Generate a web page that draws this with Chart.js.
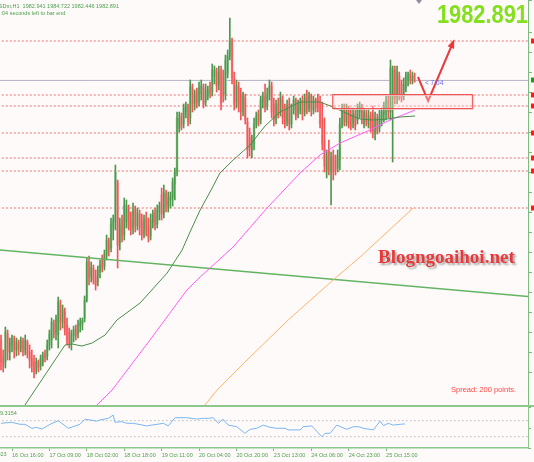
<!DOCTYPE html>
<html>
<head>
<meta charset="utf-8">
<script src="https://cdn.jsdelivr.net/npm/chart.js@4.4.0/dist/chart.umd.min.js"></script>
<style>
  html, body { margin: 0; padding: 0; background: #fefafa; }
  #wrap { position: relative; width: 534px; height: 462px; overflow: hidden; background: #fefafa; }
  #main { position: absolute; left: 0; top: 0; }
  #ind { position: absolute; left: 0; top: 405px; }
</style>
</head>
<body>
<div id="wrap">
  <canvas id="main" width="534" height="405"></canvas>
  <canvas id="ind" width="534" height="57"></canvas>
</div>
<script>
// XAUUSDm H1 candles, one per hour
const barOpen = [
  1918, 1914.25, 1912.5, 1919.5, 1915, 1916.75, 1918, 1915.5, 1917.25, 1916,
  1917.75, 1915.5, 1917.5, 1915, 1913.5, 1912.5, 1910.5, 1912.5, 1911.5, 1912.5,
  1914.5, 1914, 1916.75, 1918, 1922, 1919.75, 1919.25, 1926.75, 1922.5, 1925,
  1921.75, 1920, 1917, 1919, 1920.75, 1919.5, 1921.5, 1922, 1923.5, 1928,
  1937.5, 1934, 1936, 1934, 1932.5, 1935, 1938.5, 1936.5, 1939.25, 1942.5,
  1941, 1946, 1947.5, 1957.5, 1942, 1948, 1944.25, 1947.5, 1951, 1948,
  1946, 1950.5, 1946.5, 1949.5, 1947.5, 1944.5, 1948.5, 1946.5, 1944, 1947.5,
  1950, 1947, 1950, 1954.25, 1949.5, 1954.5, 1951.5, 1953, 1953.5, 1957,
  1960, 1971, 1974, 1972, 1975, 1976.5, 1973.5, 1981, 1977, 1980,
  1977.5, 1979.5, 1981, 1977.5, 1979, 1981.5, 1980, 1984, 1985, 1982,
  1985.5, 1984.5, 1979.5, 1984.5, 1989, 1993, 1983.5, 1977.5, 1981.5, 1979.5,
  1975, 1978.5, 1972.5, 1968.5, 1965.5, 1967, 1972, 1974.5, 1973, 1977.5,
  1979, 1976.5, 1979.5, 1981.5, 1977, 1973, 1977, 1975, 1978, 1975.5,
  1972.5, 1977, 1972, 1975.5, 1978, 1974.5, 1975.5, 1978, 1975, 1979.5,
  1976, 1979, 1975.5, 1978, 1978.5, 1977.5, 1973, 1968, 1960, 1965.5,
  1960, 1964, 1963, 1961, 1963, 1972, 1976, 1972.5, 1975.5, 1974,
  1972, 1974.5, 1973, 1975, 1976.5, 1972, 1974.5, 1972, 1974, 1974.5,
  1969.5, 1973.5, 1971, 1973, 1974.5, 1976, 1978, 1975, 1979, 1985.5,
  1978.5, 1984, 1982, 1979, 1981, 1983, 1984.5, 1983, 1982.94
];
const barHigh = [
  1919.25, 1915.5, 1921.25, 1920.5, 1918.5, 1919.25, 1919, 1918.5, 1918, 1918.75,
  1918.5, 1919.25, 1918, 1916.75, 1915.5, 1914.25, 1913.5, 1913, 1914.25, 1915,
  1915.5, 1918, 1920.5, 1923.5, 1923, 1924.25, 1928.75, 1928, 1926.75, 1926,
  1923.5, 1921, 1920.5, 1921.5, 1921.75, 1923, 1923.5, 1923.5, 1929, 1938.5,
  1939, 1937.5, 1936.75, 1935.5, 1936.5, 1938, 1939.25, 1940.5, 1944.25, 1943.5,
  1948.5, 1949.25, 1961.75, 1958, 1948.5, 1949.25, 1953.5, 1953, 1951.75, 1950,
  1952.25, 1951.5, 1951, 1950.5, 1949.5, 1949.25, 1950, 1948.5, 1949.5, 1950.5,
  1951, 1951.75, 1952.5, 1956, 1956.75, 1955.5, 1955, 1955, 1958.5, 1961,
  1975, 1975, 1974.75, 1977, 1977.5, 1977, 1983, 1982, 1980.5, 1981,
  1982.5, 1983, 1982, 1982, 1981.5, 1982.5, 1987, 1986.5, 1986, 1986.5,
  1986.5, 1985.5, 1989.25, 1990.5, 1998.5, 1993.5, 1985, 1983, 1982.5, 1981,
  1980, 1979.5, 1973.5, 1971, 1969.25, 1973.5, 1975, 1975.5, 1979, 1980,
  1982, 1981, 1983, 1982.5, 1978.5, 1978, 1978.5, 1980, 1979, 1977,
  1978, 1978.5, 1977, 1979, 1978.5, 1978, 1978.5, 1979, 1979.5, 1980.5,
  1980, 1979.5, 1979, 1978.5, 1979.5, 1979, 1977.5, 1973.5, 1965.5, 1968,
  1965, 1965.5, 1964.25, 1965.5, 1973.5, 1977, 1977, 1977, 1976.5, 1976,
  1976, 1975.5, 1977, 1977.5, 1977, 1976, 1975.5, 1975.5, 1975, 1976.5,
  1975, 1974.5, 1975.5, 1976, 1977.5, 1979, 1979, 1988, 1986.5, 1986.5,
  1986.5, 1985, 1983, 1983.5, 1985, 1985, 1985.5, 1985, 1984.72
];
const barLow = [
  1910.5, 1910, 1911, 1913, 1913, 1915, 1913.5, 1914, 1914.25, 1915,
  1914, 1914.25, 1913.5, 1911, 1910, 1908.5, 1909.5, 1910, 1910.5, 1911.5,
  1912.5, 1913, 1915.5, 1916, 1918.5, 1918, 1916, 1920.5, 1921, 1919.25,
  1916.75, 1916, 1915.5, 1917.5, 1918, 1918.5, 1920, 1920.5, 1922.5, 1927.5,
  1931.75, 1932.5, 1932, 1930.5, 1931.5, 1933.5, 1935, 1935.5, 1938, 1939,
  1940, 1943, 1945.5, 1936, 1940.5, 1942.5, 1943, 1946, 1945.5, 1944.25,
  1944.5, 1945, 1945.5, 1944.25, 1943, 1943.5, 1944, 1942.5, 1943, 1946,
  1945.5, 1946, 1948, 1948, 1948.5, 1950, 1950, 1951, 1951.5, 1953,
  1959, 1970, 1970.5, 1971, 1973.5, 1971.5, 1972, 1975, 1975.5, 1976,
  1976.5, 1978, 1976, 1976.5, 1978, 1978.5, 1979, 1982, 1980, 1980.5,
  1975.5, 1977.5, 1978, 1983.5, 1988, 1982, 1975.5, 1976, 1975, 1973,
  1974, 1972, 1963.5, 1964, 1963.5, 1965.5, 1971, 1971.5, 1972, 1976,
  1975, 1975.5, 1978, 1973.5, 1971.5, 1972, 1973.5, 1974, 1972, 1971,
  1971.5, 1970.5, 1971, 1974.5, 1973, 1973.5, 1974.5, 1973, 1974, 1974.5,
  1975, 1974, 1974.5, 1975, 1975, 1971, 1965.5, 1960, 1958.5, 1959.25,
  1951.75, 1958, 1959.25, 1960, 1960.5, 1971, 1971.5, 1971.5, 1971, 1970.5,
  1971, 1970.5, 1972, 1973.5, 1972, 1971, 1971.5, 1971, 1970, 1968.5,
  1968, 1969.5, 1970, 1971.5, 1972.5, 1973, 1973.5, 1973, 1962.5, 1977,
  1977, 1978, 1977.5, 1978, 1980, 1981.5, 1982, 1982, 1982.45
];
const barClose = [
  1912.5, 1911.5, 1920, 1915, 1917.5, 1918.5, 1915.5, 1917.5, 1915.5, 1918,
  1915, 1918, 1914.5, 1913, 1911.5, 1910, 1912.5, 1911, 1913.5, 1914.25,
  1913.5, 1916.75, 1919.5, 1922.5, 1919.5, 1923, 1927.5, 1922.5, 1925.5, 1920.5,
  1918, 1917, 1919.5, 1920.5, 1919.25, 1922, 1922.5, 1923, 1928, 1937.5,
  1933.5, 1936, 1933, 1931.75, 1935.5, 1937, 1936, 1939.5, 1943, 1940.5,
  1947, 1948, 1960, 1941.75, 1946.75, 1944, 1951.75, 1951.5, 1946.5, 1945.5,
  1950.5, 1946.5, 1949.75, 1946, 1944.25, 1948, 1945.5, 1943.5, 1948, 1949.5,
  1946.75, 1950.5, 1951.5, 1949.5, 1955, 1951.5, 1953.5, 1954, 1957.5, 1960,
  1973.5, 1973.5, 1971.5, 1976, 1976.75, 1972.5, 1981.5, 1977, 1979, 1977.25,
  1981, 1981.5, 1977, 1980.5, 1980.5, 1979.5, 1985.5, 1985.5, 1981.5, 1985,
  1977, 1979, 1988, 1989, 1993, 1983.5, 1977, 1981.5, 1976.5, 1975,
  1979, 1973, 1965.5, 1966, 1968, 1972, 1974, 1972.5, 1978, 1979,
  1976, 1979.5, 1981.5, 1975, 1973, 1976.5, 1974.5, 1978.5, 1973.5, 1972,
  1976.5, 1972, 1975.5, 1978, 1974, 1977, 1977.5, 1974.5, 1978.5, 1975.5,
  1979, 1975.5, 1978, 1976, 1976, 1972, 1967, 1961.5, 1964, 1960.5,
  1963.5, 1960, 1960.5, 1964, 1972, 1975.5, 1973, 1975.5, 1972, 1971.5,
  1974.5, 1971.5, 1976, 1976.5, 1973, 1975, 1972.5, 1974, 1971, 1970,
  1973.5, 1970.5, 1974, 1975, 1976.5, 1978, 1975, 1986, 1985.5, 1978.5,
  1985, 1979.5, 1978.5, 1982, 1984, 1984.5, 1983, 1984, 1982.89
];

// moving averages, sampled where they could be read (bar index, price)
const maFastX = [10.9, 29.1, 32.3, 36.8, 41.4, 47.3, 52.7, 63.2, 75.5, 82.3, 85.9, 90.5, 95, 99.5, 105.5, 113.2, 120, 126.8, 135.9, 145, 150.9, 158.6, 163.2, 169.1, 175.5, 181.4, 188.2];
const maFastY = [1901.75, 1916.75, 1917, 1916.5, 1917.25, 1919.25, 1923, 1927.25, 1934.75, 1940.5, 1945, 1950.5, 1955, 1959.75, 1963, 1966.75, 1971.5, 1975, 1977.5, 1977.5, 1976.25, 1974.25, 1973.25, 1973, 1973.25, 1973.75, 1974];
const maMidX = [43.6, 50.5, 67.7, 84.5, 90.5, 105.5, 120.9, 135.9, 145, 154.1, 167.7, 176.8, 188.2];
const maMidY = [1901.75, 1905.5, 1918, 1930.5, 1933.75, 1941.25, 1951, 1959.75, 1964.25, 1967.25, 1970.5, 1973, 1975.5];
const maSlowX = [92.7, 98.2, 113.2, 130.5, 150.9, 163.2, 181.4, 187.3];
const maSlowY = [1901.75, 1905.5, 1913.75, 1923, 1933, 1938.75, 1948, 1951];

const trendX = [-0.5, 242.5];
const trendY = [1940.5, 1928.7];

const levels = [1992.75, 1979.25, 1976.5, 1969.75, 1963.5, 1960.25, 1951];
const bidPrice = 1982.891;

const zoneX = [150.5, 214];
const zoneY = [1979.5, 1976];

const arrowX = [189.5, 194.1, 205.5];
const arrowY = [1983.75, 1977.75, 1992.5];

// lower window indicator
const indX = [0, 4.9, 8.6, 10.9, 14, 16.2, 18.5, 22.3, 26, 27.6, 30.6, 35.9, 38.2, 43.5, 45, 48.8, 51, 51.8, 54.9, 57.1, 60.1, 66.2, 73.8, 76, 79.1, 84.4, 89, 92, 94.2, 96.5, 98.8, 100.8, 103.3, 107.1, 110.9, 113.2, 116.2, 119.2, 122.3, 125.3, 129.1, 130.6, 135.9, 137.4, 141.2, 145.8, 147.3, 149.5, 152.6, 157.1, 160.1, 162.4, 164.7, 169.2, 172.3, 173.8, 176, 178.3, 181.4, 183.6];
const indY = [9.35, 9.6, 9.1, 9.1, 8.1, 8.35, 7.9, 9.1, 10, 9.35, 8.1, 9.1, 10.4, 9.9, 10.2, 10.6, 11.4, 9.6, 9.75, 9.35, 9.35, 8.7, 9.35, 8.7, 10.75, 10.75, 10.4, 10.6, 10.6, 10.75, 9.35, 10.4, 8.9, 8.5, 6.85, 7.85, 8.1, 8.9, 8.35, 8.1, 8.1, 7.7, 7.7, 8.5, 8.7, 6, 6.85, 6.85, 8.9, 7.85, 8.5, 8.5, 8.1, 7.7, 9.9, 8.75, 9.35, 8.9, 9.1, 9.2];
const indLevels = [10, 6];

const timeTicks = [5, 22, 39, 56, 73, 90, 107, 124, 141, 158, 175];
const timeLabels = ["16 Oct 16:00", "17 Oct 09:00", "18 Oct 02:00", "18 Oct 18:00", "19 Oct 11:00", "20 Oct 04:00", "20 Oct 20:00", "23 Oct 13:00", "24 Oct 06:00", "24 Oct 23:00", "25 Oct 15:00"];

const X_MIN = -0.4545;
const X_MAX = 239.5;

Chart.defaults.font.family = "'Liberation Sans', Arial, sans-serif";
Chart.defaults.animation = false;

const isBull = (i) => barClose[i] >= barOpen[i];

function pts(xs, ys) {
  return xs.map((x, i) => ({ x, y: ys[i] }));
}

function lineSet(data, color, width, dash) {
  return {
    type: "line",
    data,
    borderColor: color,
    borderWidth: width,
    borderDash: dash || [],
    pointRadius: 0,
    tension: 0,
    fill: false,
  };
}

const wicks = {
  type: "bar",
  data: barLow.map((l, i) => ({ x: i, y: [l, barHigh[i]] })),
  backgroundColor: (c) => (isBull(c.dataIndex) ? "#4c984c" : "#f25656"),
  barThickness: 1,
  maxBarThickness: 1,
  grouped: false,
  borderWidth: 0,
};

const bodies = {
  type: "bar",
  data: barOpen.map((o, i) => ({ x: i, y: [o, barClose[i]] })),
  backgroundColor: (c) => (isBull(c.dataIndex) ? "#b2d8b2" : "#fab8b8"),
  barThickness: 2,
  maxBarThickness: 2,
  grouped: false,
  borderWidth: 0,
};

const levelSets = levels.map((lv) =>
  lineSet(pts([X_MIN - 1, X_MAX + 1], [lv, lv]), "#f26a6a", 1, [2, 2]),
);

const overlay = {
  id: "overlay",
  afterDatasetsDraw(chart) {
    const { ctx, scales } = chart;
    const x = scales.x;
    const y = scales.y;
    ctx.save();

    // support zone
    const zx0 = x.getPixelForValue(zoneX[0]);
    const zx1 = x.getPixelForValue(zoneX[1]);
    const zy0 = y.getPixelForValue(zoneY[0]);
    const zy1 = y.getPixelForValue(zoneY[1]);
    ctx.fillStyle = "rgba(255,225,225,0.35)";
    ctx.fillRect(zx0, zy0, zx1 - zx0, zy1 - zy0);
    ctx.strokeStyle = "rgba(240,190,190,0.8)";
    ctx.lineWidth = 1;
    ctx.strokeRect(zx0 + 1.5, zy0 + 1.5, zx1 - zx0, zy1 - zy0);
    ctx.strokeStyle = "rgba(236,70,70,0.9)";
    ctx.strokeRect(zx0 + 0.5, zy0 + 0.5, zx1 - zx0, zy1 - zy0);

    // arrow head
    const ax = x.getPixelForValue(arrowX[2]);
    const ay = y.getPixelForValue(arrowY[2]);
    const bx = x.getPixelForValue(arrowX[1]);
    const by = y.getPixelForValue(arrowY[1]);
    const ang = Math.atan2(ay - by, ax - bx);
    ctx.fillStyle = "#ea3a3a";
    ctx.beginPath();
    ctx.moveTo(ax + Math.cos(ang) * 3, ay + Math.sin(ang) * 3);
    ctx.lineTo(ax - Math.cos(ang) * 6 + Math.cos(ang + Math.PI / 2) * 3.5, ay - Math.sin(ang) * 6 + Math.sin(ang + Math.PI / 2) * 3.5);
    ctx.lineTo(ax - Math.cos(ang) * 6 - Math.cos(ang + Math.PI / 2) * 3.5, ay - Math.sin(ang) * 6 - Math.sin(ang + Math.PI / 2) * 3.5);
    ctx.closePath();
    ctx.fill();

    // price tags on the right edge (cut off by the window)
    levels.forEach((lv) => {
      ctx.fillStyle = "#ff1a1a";
      ctx.fillRect(531, Math.round(y.getPixelForValue(lv)) - 2.5, 3, 5);
    });
    ctx.fillStyle = "#1e9a1e";
    ctx.fillRect(531, Math.round(y.getPixelForValue(bidPrice)) - 2.5, 3, 5);

    // chart shift marker
    ctx.fillStyle = "#8e8e9e";
    ctx.beginPath();
    ctx.moveTo(416, 0);
    ctx.lineTo(422, 0);
    ctx.lineTo(419, 4);
    ctx.closePath();
    ctx.fill();

    // texts
    ctx.textBaseline = "alphabetic";
    ctx.fillStyle = "#4e9e4e";
    ctx.font = "5.5px 'Liberation Sans'";
    ctx.fillText("XAUUSDm,H1  1982.941 1984.722 1982.446 1982.891", -16.5, 7.5);
    ctx.fillText(":04 seconds left to bar end", 0.5, 15);

    ctx.fillStyle = "#6868ee";
    ctx.font = "6.5px 'Liberation Sans'";
    ctx.fillText("< 7:04", x.getPixelForValue(192.7), y.getPixelForValue(1982.25) + 2);

    ctx.fillStyle = "#ff4848";
    ctx.font = "7.5px 'Liberation Sans'";
    ctx.fillText("Spread: 200 points.", 451, 392);

    ctx.save();
    ctx.shadowColor = "rgba(60,60,60,0.45)";
    ctx.shadowBlur = 2;
    ctx.shadowOffsetX = 2;
    ctx.shadowOffsetY = 2;
    ctx.fillStyle = "#e83a3a";
    ctx.font = "bold 19px 'Liberation Serif'";
    ctx.fillText("Blogngoaihoi.net", 378, 262.5);
    ctx.restore();

    ctx.save();
    ctx.translate(528, 22.5);
    ctx.scale(0.84, 1);
    ctx.textAlign = "right";
    ctx.fillStyle = "#84e01e";
    ctx.font = "bold 26px 'Liberation Sans'";
    ctx.fillText("1982.891", 0, 0);
    ctx.restore();

    ctx.restore();
  },
};

new Chart(document.getElementById("main"), {
  type: "bar",
  data: {
    datasets: [
      lineSet(pts(arrowX, arrowY), "#ea3a3a", 2),
      lineSet(pts(maFastX, maFastY), "#4a8e4a", 1),
      lineSet(pts(maMidX, maMidY), "#ff5cff", 1),
      lineSet(pts(maSlowX, maSlowY), "#ffb46a", 1),
      lineSet(pts(trendX, trendY), "#62b462", 1.5),
      wicks,
      bodies,
      ...levelSets,
      lineSet(pts([X_MIN - 1, X_MAX + 1], [bidPrice, bidPrice]), "#b4b4c6", 1),
    ],
  },
  options: {
    responsive: false,
    maintainAspectRatio: false,
    layout: { padding: 0 },
    plugins: { legend: { display: false }, tooltip: { enabled: false } },
    scales: {
      x: {
        type: "linear",
        min: X_MIN,
        max: X_MAX,
        offset: false,
        display: false,
      },
      y: {
        type: "linear",
        position: "right",
        min: 1901.75,
        max: 2003,
        afterFit: (s) => { s.width = 6; },
        ticks: { display: false, stepSize: 5 },
        grid: { drawOnChartArea: false, drawTicks: true, tickLength: 4, color: "#7cbc7c" },
        border: { display: true, color: "#7cbc7c", width: 1 },
      },
    },
  },
  plugins: [overlay],
});

const indOverlay = {
  id: "indOverlay",
  beforeDraw(chart) {
    const { ctx } = chart;
    ctx.save();
    ctx.fillStyle = "#8cc88c";
    ctx.fillRect(0, 0, 534, 2);
    ctx.restore();
  },
  afterDraw(chart) {
    const { ctx, scales } = chart;
    ctx.save();
    ctx.fillStyle = "#4e9e4e";
    ctx.font = "5.5px 'Liberation Sans'";
    ctx.fillText("9.3154", 0, 9.5);
    ctx.fillText("16 Oct 2023", scales.x.getPixelForValue(-12) + 2, 51);
    ctx.restore();
  },
};

new Chart(document.getElementById("ind"), {
  type: "line",
  data: {
    datasets: [
      lineSet(pts(indX, indY), "#7ab6f2", 1),
      ...indLevels.map((lv) => lineSet(pts([X_MIN - 1, X_MAX + 1], [lv, lv]), "#c8c8c8", 1, [2, 2])),
    ],
  },
  options: {
    responsive: false,
    maintainAspectRatio: false,
    layout: { padding: { top: 2, left: 0, right: 0, bottom: 0 } },
    plugins: { legend: { display: false }, tooltip: { enabled: false } },
    scales: {
      x: {
        type: "linear",
        min: X_MIN,
        max: X_MAX,
        offset: false,
        afterFit: (s) => { s.height = 14; },
        afterBuildTicks: (s) => { s.ticks = timeTicks.map((v) => ({ value: v })); },
        ticks: {
          autoSkip: false,
          maxRotation: 0,
          align: "start",
          padding: 1,
          color: "#4e9e4e",
          font: { size: 5.5 },
          callback: (v, i) => timeLabels[i],
        },
        grid: { drawOnChartArea: false, drawTicks: true, tickLength: 3, color: "#7cbc7c" },
        border: { display: true, color: "#8cc88c", width: 1.5 },
      },
      y: {
        type: "linear",
        position: "right",
        min: 3.175,
        max: 13.425,
        afterFit: (s) => { s.width = 6; },
        ticks: { display: false, stepSize: 4 },
        grid: { drawOnChartArea: false, drawTicks: true, tickLength: 3, color: "#7cbc7c" },
        border: { display: true, color: "#8cc88c", width: 1 },
      },
    },
  },
  plugins: [indOverlay],
});
</script>
</body>
</html>
